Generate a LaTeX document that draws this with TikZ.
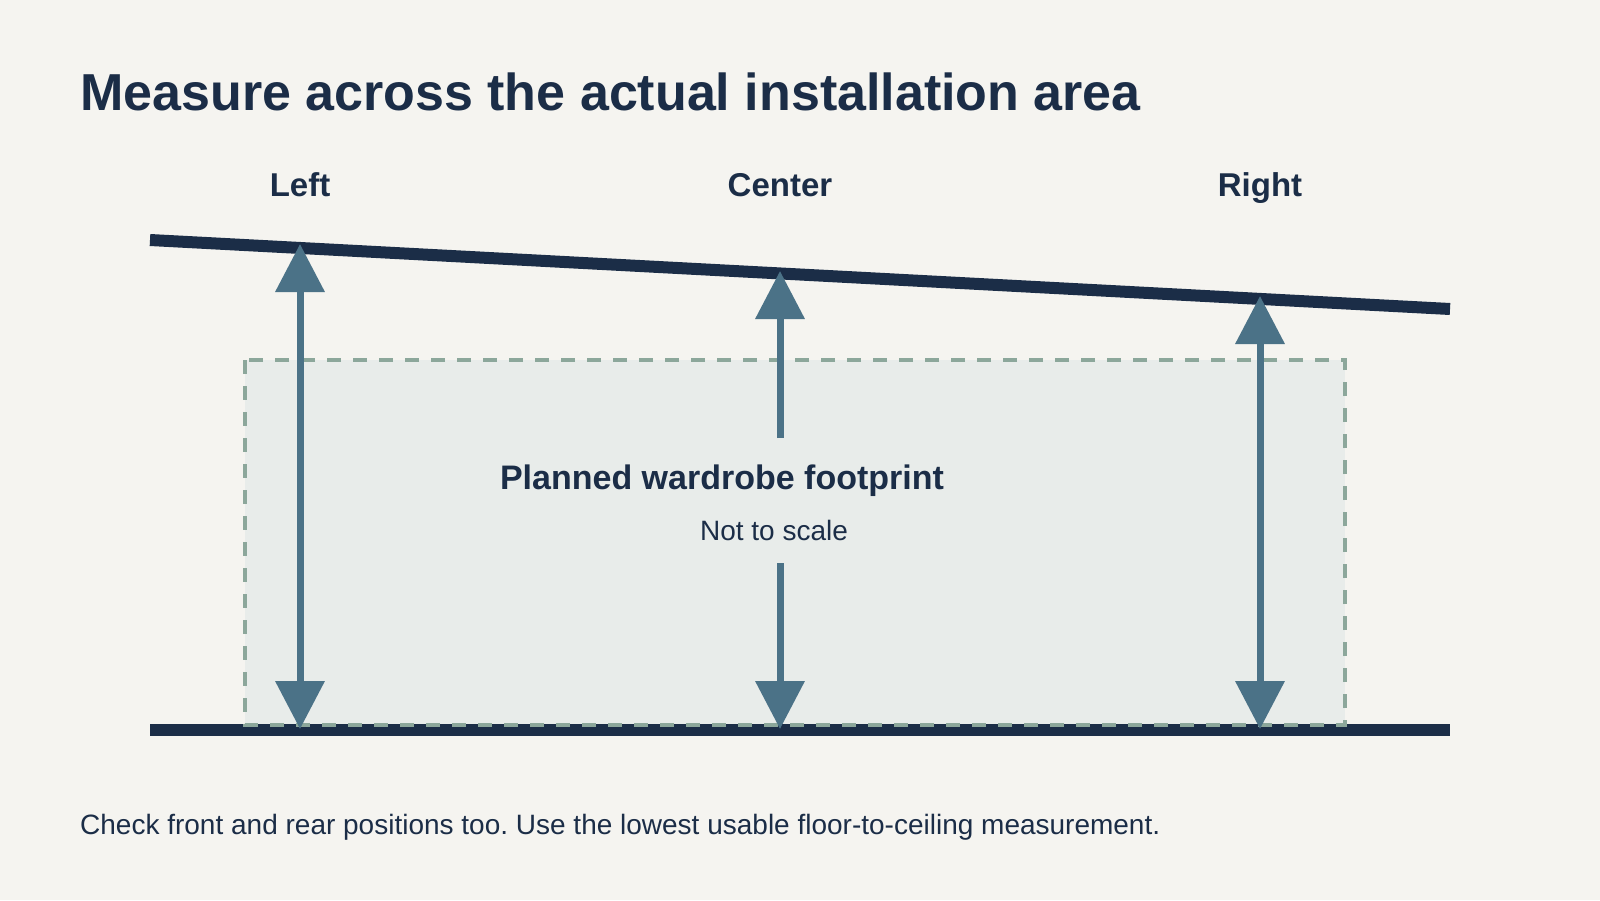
\documentclass[tikz,border=0pt]{standalone}
\usepackage{fontspec}
\setmainfont{Liberation Sans}
\usepackage{xcolor}
\usepackage{tikz}
\usetikzlibrary{arrows.meta, positioning}
\frenchspacing

\definecolor{paper}{HTML}{F5F4F0}
\definecolor{ink}{HTML}{1B2D47}
\definecolor{gauge}{HTML}{4B7287}
\definecolor{sage}{HTML}{8CA79B}
\definecolor{mist}{HTML}{E8ECEA}

\begin{document}
\begin{tikzpicture}[
    x=1pt, y=-1pt,
    heading/.style={font=\fontsize{52}{60}\selectfont\bfseries, text=ink,
                    anchor=base west, inner sep=0pt},
    spot/.style={font=\fontsize{33}{40}\selectfont\bfseries, text=ink,
                 anchor=base, inner sep=0pt},
    note/.style={font=\fontsize{28}{34}\selectfont, text=ink,
                 anchor=base, inner sep=0pt},
    surface/.style={draw=ink, line width=12pt},
    gaugeline/.style={draw=gauge, line width=7pt},
    >={Triangle[width=48pt, length=48pt]}
  ]
  \fill[paper] (0,0) rectangle (1600,900);
  \useasboundingbox (0,0) rectangle (1600,900);

  % footprint area
  \fill[mist] (245,360) rectangle (1345,725);

  % ceiling and floor
  \coordinate (c1) at (150,240);
  \coordinate (c2) at (1450,309);
  \coordinate (f1) at (150,730);
  \coordinate (f2) at (1450,730);
  \draw[surface] (c1) -- (c2);
  \draw[surface] (f1) -- (f2);

  \draw[sage, line width=4.5pt, dash pattern=on 14pt off 12pt]
    (245,360) rectangle (1345,725);

  % texts
  \node[heading] (title) at (80,110) {Measure across the actual installation area};
  \node[spot] (lbl-l) at (300,196) {Left};
  \node[spot] (lbl-c) at (780,196) {Center};
  \node[spot] (lbl-r) at (1260,196) {Right};
  \node[spot, font=\fontsize{34}{40}\selectfont\bfseries] (plan) at (722,489)
    {Planned wardrobe footprint};
  \node[note] (scale) at (774,540) {Not to scale};
  \node[note, anchor=base west] (tip) at (80,834)
    {Check front and rear positions too. Use the lowest usable floor-to-ceiling measurement.};

  % measuring points
  \coordinate (lt) at (300,244);
  \coordinate (lb) at (300,729);
  \coordinate (mt) at (780,271);
  \coordinate (mu) at (780,438);
  \coordinate (ml) at (780,563);
  \coordinate (mb) at (780,729);
  \coordinate (rt) at (1260,296);
  \coordinate (rb) at (1260,729);

  \draw[gaugeline, <->] (lb) -- (lt);
  \draw[gaugeline, ->] (mu) -- (mt);
  \draw[gaugeline, ->] (ml) -- (mb);
  \draw[gaugeline, <->] (rb) -- (rt);
\end{tikzpicture}
\end{document}
